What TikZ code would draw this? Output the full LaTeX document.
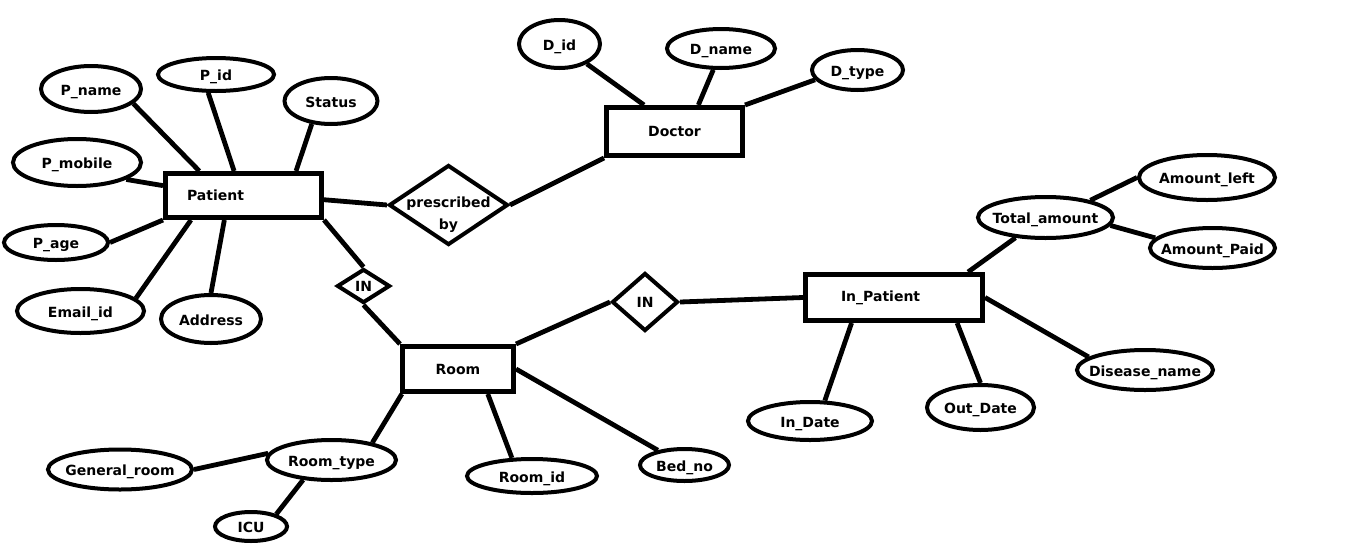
\documentclass[tikz,border=0pt]{standalone}
\usepackage{fontspec}
\setmainfont{DejaVu Sans}
\usetikzlibrary{shapes.geometric}

\begin{document}
\begin{tikzpicture}
    [
        x=0.5pt, y=-0.5pt,
        every node/.style={font=\bfseries\fontsize{7}{11}\selectfont},
        entity_node/.style={rectangle, draw=black, line width=2.5pt, inner ysep=0pt},
        attr_node/.style={ellipse, draw=black, line width=2pt, inner xsep=-30pt, inner ysep=-2pt, text height=1.5ex, text depth=0.4ex},
        rel_node/.style={diamond, draw=black, line width=2pt, inner xsep=-30pt, inner ysep=-12pt, align=center},
        link_line/.style={line width=2.4pt, color=black},
    ]
        \useasboundingbox (0,0) rectangle (1360,552) ;
        % entities
        \node[entity_node, minimum width=78pt, minimum height=22pt, text width=56.5pt, align=left, inner xsep=10.75pt] (patient) at (243.5,195.5) {Patient} ;
        \node[entity_node, minimum width=68pt, minimum height=24pt] (doctor) at (674.5,131.5) {Doctor} ;
        \node[entity_node, minimum width=55.5pt, minimum height=22.5pt] (room) at (458,369) {Room} ;
        \node[entity_node, minimum width=88.5pt, minimum height=23pt, text width=53pt, align=left, inner xsep=17.75pt] (in_patient) at (894,297.5) {In\_Patient} ;
        % relations
        \node[rel_node, minimum width=59.5pt, minimum height=40pt] (prescribed) at (448.5,205)
            {\raisebox{-4.5pt}[\height][\depth]{\begin{tabular}{@{}c@{}}prescribed\\by\end{tabular}}} ;
        \node[rel_node, minimum width=26.5pt, minimum height=17pt] (in_a) at (363.5,286) {IN} ;
        \node[rel_node, minimum width=33pt, minimum height=29pt] (in_b) at (645,302) {IN} ;
        % attributes of Patient
        \node[attr_node, minimum width=50pt, minimum height=23pt] (p_name) at (91,89) {P\_name} ;
        \node[attr_node, minimum width=58pt, minimum height=16.5pt] (p_id) at (216,74.5) {P\_id} ;
        \node[attr_node, minimum width=46.5pt, minimum height=23pt] (status) at (331,101) {Status} ;
        \node[attr_node, minimum width=64pt, minimum height=23.5pt] (p_mobile) at (77,162.5) {P\_mobile} ;
        \node[attr_node, minimum width=52pt, minimum height=17.5pt] (p_age) at (56,242.5) {P\_age} ;
        \node[attr_node, minimum width=63.5pt, minimum height=22pt] (email_id) at (80.5,311) {Email\_id} ;
        \node[attr_node, minimum width=50pt, minimum height=24pt] (address) at (211,319) {Address} ;
        % attributes of Doctor
        \node[attr_node, minimum width=40.5pt, minimum height=24pt] (d_id) at (559.5,44) {D\_id} ;
        \node[attr_node, minimum width=54pt, minimum height=19.5pt] (d_name) at (721,48.5) {D\_name} ;
        \node[attr_node, minimum width=45.5pt, minimum height=20pt] (d_type) at (857.5,70) {D\_type} ;
        % attributes of In_Patient
        \node[attr_node, minimum width=67.5pt, minimum height=20.5pt] (total_amount) at (1045.5,217.5) {Total\_amount} ;
        \node[attr_node, minimum width=68pt, minimum height=22.5pt] (amount_left) at (1207,177.5) {Amount\_left} ;
        \node[attr_node, minimum width=62.5pt, minimum height=20pt] (amount_paid) at (1212.5,248) {Amount\_Paid} ;
        \node[attr_node, minimum width=68pt, minimum height=20pt] (disease_name) at (1145,370) {Disease\_name} ;
        \node[attr_node, minimum width=53.5pt, minimum height=22.5pt] (out_date) at (980.5,407.5) {Out\_Date} ;
        \node[attr_node, minimum width=62pt, minimum height=19pt] (in_date) at (810,421) {In\_Date} ;
        % attributes of Room
        \node[attr_node, minimum width=64.5pt, minimum height=20pt] (room_type) at (331.5,460) {Room\_type} ;
        \node[attr_node, minimum width=72pt, minimum height=20pt] (general_room) at (120,469.5) {General\_room} ;
        \node[attr_node, minimum width=36pt, minimum height=14.5pt] (icu) at (251,526.5) {ICU} ;
        \node[attr_node, minimum width=65pt, minimum height=17pt] (room_id) at (532,476) {Room\_id} ;
        \node[attr_node, minimum width=44.5pt, minimum height=16pt] (bed_no) at (684.5,465) {Bed\_no} ;
        % links
        \draw[link_line] (p_name.-19) to (patient.151) ;
        \draw[link_line] (p_id.-113) to (patient.111) ;
        \draw[link_line] (status.-130) to (patient.25) ;
        \draw[link_line] (p_mobile.-19) to (patient.173) ;
        \draw[link_line] (p_age.east) to (patient.south west) ;
        \draw[link_line] (email_id.13) to (patient.-155) ;
        \draw[link_line] (address.north) to (patient.-128) ;
        \draw[link_line] (patient.-3) to (prescribed.west) ;
        \draw[link_line] (prescribed.east) to (doctor.south west) ;
        \draw[link_line] (d_id.-36) to (doctor.139) ;
        \draw[link_line] (d_name.-110) to (doctor.48) ;
        \draw[link_line] (d_type.193) to (doctor.north east) ;
        \draw[link_line] (patient.south east) to (in_a.north) ;
        \draw[link_line] (in_a.south) to (room.north west) ;
        \draw[link_line] (room.north east) to (in_b.west) ;
        \draw[link_line] (in_b.east) to (in_patient.west) ;
        \draw[link_line] (room.east) to (bed_no.151) ;
        \draw[link_line] (room.-40) to (room_id.138) ;
        \draw[link_line] (room.-156) to (room_type.23) ;
        \draw[link_line] (room_type.174) to (general_room.east) ;
        \draw[link_line] (room_type.-145) to (icu.26) ;
        \draw[link_line] (in_patient.19) to (total_amount.-146) ;
        \draw[link_line] (total_amount.21) to (amount_left.west) ;
        \draw[link_line] (total_amount.-7) to (amount_paid.170) ;
        \draw[link_line] (in_patient.east) to (disease_name.167) ;
        \draw[link_line] (in_patient.-22) to (out_date.north) ;
        \draw[link_line] (in_patient.-149) to (in_date.54) ;
\end{tikzpicture}
\end{document}
